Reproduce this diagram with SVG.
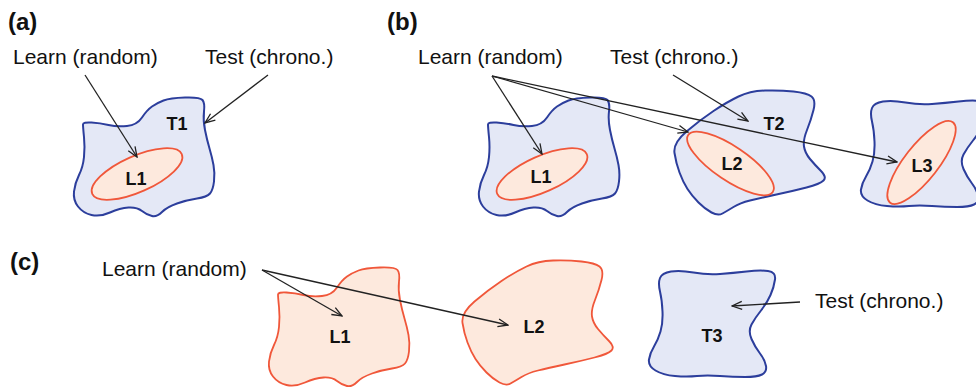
<svg xmlns="http://www.w3.org/2000/svg" width="976" height="392" viewBox="0 0 976 392">
<style>
  .t { fill: #e4e8f6; stroke: #2c3e9c; stroke-width: 2; }
  .l { fill: #fde9dd; stroke: #f0573a; stroke-width: 1.8; }
  .lab { font-family: "Liberation Sans", Arial, sans-serif; font-size: 21px; fill: #111; }
  .pan { font-family: "Liberation Sans", Arial, sans-serif; font-size: 24px; font-weight: bold; fill: #111; }
  .nm { font-family: "Liberation Sans", Arial, sans-serif; font-size: 18px; font-weight: bold; fill: #111; text-anchor: middle; }
  .c { fill: none; stroke: #222; stroke-width: 1.3; }
</style>
<defs>
  <path id="shapeA" d="M91.5,122.5 Q100,123 108.5,125 Q117,127 127,126 Q137,125 142,117.5 Q147,110 152,106.5 Q157,103 163.5,100.5 Q170,98 185,97.5 Q200,97 202.5,100 Q205,103 204,111.5 Q203,120 205,130 Q207,140 209.5,148.5 Q212,157 213.5,165 Q215,173 214,181.5 Q213,190 210,193.5 Q207,197 197,198.5 Q187,200 177,203.5 Q167,207 162,212 Q157,217 152,216 Q147,215 142,211 Q137,207 128.5,207.5 Q120,208 110,212.5 Q100,217 91.5,215 Q83,213 78,206.5 Q73,200 74,191.5 Q75,183 79,175 Q83,167 84,157 Q85,147 84,137 Q83,127 83,124.5 Q83,122 91.5,122.5 Z"/>
  <path id="shapeB" d="M686.5,131.5 Q700,120 713.5,111 Q727,102 738.5,96.5 Q750,91 765,90.5 Q780,90 793.5,91.5 Q807,93 811.5,96.5 Q816,100 813.5,110 Q811,120 807,130 Q803,140 804,146.5 Q805,153 810,159 Q815,165 821,171 Q827,177 823.5,180.5 Q820,184 806.5,187.5 Q793,191 776.5,194.5 Q760,198 750,200.5 Q740,203 733.5,207 Q727,211 722.5,213.5 Q718,216 711.5,212.5 Q705,209 698.5,202.5 Q692,196 687.5,189 Q683,182 679.5,172.5 Q676,163 674.5,153 Q673,143 686.5,131.5 Z"/>
  <path id="shapeC" d="M671,271.5 Q680,270 693.5,272.5 Q707,275 720,274 Q733,273 746.5,271.5 Q760,270 768,271 Q776,272 775,279.5 Q774,287 770.5,295 Q767,303 761,310.5 Q755,318 751.5,324.5 Q748,331 751.5,339 Q755,347 760,353.5 Q765,360 766,366 Q767,372 762,374.5 Q757,377 745,377 Q733,377 720,376 Q707,375 697,376 Q687,377 675,376 Q663,375 655.5,370.5 Q648,366 649,359.5 Q650,353 654,346.5 Q658,340 660.5,331.5 Q663,323 662.5,311.5 Q662,300 660,291.5 Q658,283 660,278 Q662,273 671,271.5 Z"/>
  <marker id="ah" viewBox="0 0 12 10" refX="11" refY="5" markerWidth="12" markerHeight="10" orient="auto" markerUnits="userSpaceOnUse">
    <path d="M1,1 L11,5 L1,9" fill="none" stroke="#222" stroke-width="1.3"/>
  </marker>
</defs>

<text class="pan" x="8" y="30">(a)</text>
<text class="pan" x="387" y="30">(b)</text>
<text class="pan" x="10" y="270">(c)</text>

<g id="a-T1">
  <use href="#shapeA" class="t"/>
  <text class="nm" x="177" y="130">T1</text>
</g>
<g id="a-L1">
  <ellipse class="l" cx="137" cy="174" rx="49" ry="18" transform="rotate(-24 137 174)"/>
  <text class="nm" x="136" y="185">L1</text>
</g>
<g id="a-learn"><text class="lab" x="13" y="64">Learn (random)</text></g>
<g id="a-test"><text class="lab" x="205" y="64">Test (chrono.)</text></g>

<g id="b-T1">
  <use href="#shapeA" class="t" transform="translate(405 0)"/>
</g>
<g id="b-L1">
  <ellipse class="l" cx="542" cy="174" rx="49" ry="18" transform="rotate(-24 542 174)"/>
  <text class="nm" x="541" y="183">L1</text>
</g>
<g id="b-T2">
  <use href="#shapeB" class="t"/>
  <text class="nm" x="774" y="130">T2</text>
</g>
<g id="b-L2">
  <ellipse class="l" cx="730.5" cy="163.5" rx="51" ry="17" transform="rotate(34 730.5 163.5)"/>
  <text class="nm" x="732" y="170">L2</text>
</g>
<g id="b-T3">
  <use href="#shapeC" class="t" transform="translate(212 -170)"/>
</g>
<g id="b-L3">
  <ellipse class="l" cx="921.5" cy="162.5" rx="51" ry="17" transform="rotate(-52 921.5 162.5)"/>
  <text class="nm" x="922" y="172">L3</text>
</g>
<g id="b-learn"><text class="lab" x="418" y="64">Learn (random)</text></g>
<g id="b-test"><text class="lab" x="610" y="64">Test (chrono.)</text></g>

<g id="c-L1">
  <use href="#shapeA" class="l" transform="translate(195 170)"/>
  <text class="nm" x="340" y="343">L1</text>
</g>
<g id="c-L2">
  <use href="#shapeB" class="l" transform="translate(-212 170)"/>
  <text class="nm" x="534" y="333">L2</text>
</g>
<g id="c-T3">
  <use href="#shapeC" class="t"/>
  <text class="nm" x="712" y="342">T3</text>
</g>
<g id="c-learn"><text class="lab" x="102" y="276">Learn (random)</text></g>
<g id="c-test"><text class="lab" x="815" y="308">Test (chrono.)</text></g>

<g id="connectors">
  <line class="c" x1="85" y1="75" x2="137" y2="157" marker-end="url(#ah)"/>
  <line class="c" x1="268" y1="75" x2="205" y2="123" marker-end="url(#ah)"/>
  <line class="c" x1="492" y1="76" x2="542" y2="154" marker-end="url(#ah)"/>
  <line class="c" x1="492" y1="76" x2="688" y2="132" marker-end="url(#ah)"/>
  <line class="c" x1="492" y1="76" x2="897" y2="162" marker-end="url(#ah)"/>
  <line class="c" x1="673" y1="75" x2="748" y2="121" marker-end="url(#ah)"/>
  <line class="c" x1="262" y1="270" x2="342" y2="316" marker-end="url(#ah)"/>
  <line class="c" x1="262" y1="270" x2="508" y2="325" marker-end="url(#ah)"/>
  <line class="c" x1="800" y1="302" x2="732" y2="306" marker-end="url(#ah)"/>
</g>
</svg>
